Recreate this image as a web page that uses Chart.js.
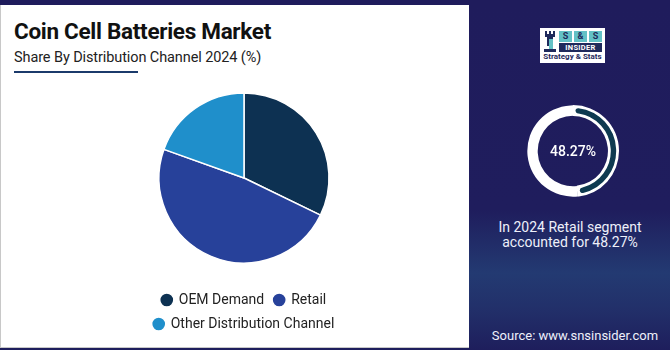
<!DOCTYPE html>
<html lang="en">
<head>
  <meta charset="UTF-8" />
  <title>Coin Cell Batteries Market</title>
  <script src="https://cdn.jsdelivr.net/npm/chart.js"></script>
  <style>
    html, body { margin: 0; padding: 0; }
    body {
      width: 670px; height: 350px; overflow: hidden; position: relative;
      font-family: Roboto, "Noto Sans", sans-serif;
      background: linear-gradient(to bottom, #1f1c5c 0%, #1f1d5d 60%, #233a72 78%, #22306a 88%, #1e1e5c 100%);
    }
    .panel {
      position: absolute; left: 0; top: 5px; width: 469px; height: 343px;
      background: #fff; border-left: 1px solid #c8c8c8; border-bottom: 1px solid #c8c8c8;
      box-sizing: border-box;
    }
    h1 {
      position: absolute; left: 13px; top: 13px; margin: 0;
      font-size: 22.5px; font-weight: 700; color: #111; letter-spacing: -0.3px;
    }
    .sub {
      position: absolute; left: 13px; top: 44px; font-size: 14.5px; color: #222; letter-spacing: -0.1px;
    }
    .underline {
      position: absolute; left: 13px; top: 66px; width: 124px; height: 2px; background: #1b3a6b;
    }
    #pieWrap { position: absolute; left: 138px; top: 73px; width: 212px; height: 268px; }
    #ringWrap { position: absolute; left: 527px; top: 105px; width: 92px; height: 92px; }
    .ringLabel {
      position: absolute; left: 527px; top: 143px; width: 92px; text-align: center;
      color: #fff; font-size: 14px; font-weight: 500;
    }
    .note {
      position: absolute; left: 470px; top: 220px; width: 200px; text-align: center;
      color: #eef0fa; font-size: 14px; line-height: 15px;
    }
    .source {
      position: absolute; left: 470px; top: 328px; width: 210px; text-align: center;
      color: #eef0fa; font-size: 13px;
    }
    .logo {
      position: absolute; left: 540px; top: 28px; width: 65px; height: 35px; background: #fff;
    }
    .rook { position: absolute; left: 3px; top: 3px; width: 14px; height: 22px; }
    .ss { position: absolute; left: 19px; top: 3px; width: 43px; height: 11px; display: flex; gap: 2px; }
    .ss span {
      flex: 1; background: #63c1c6; color: #1f2a5c; font-size: 9px; font-weight: 700;
      text-align: center; line-height: 11px;
    }
    .ins {
      position: absolute; left: 19px; top: 15px; width: 43px; height: 9px; background: #1f2a5c;
      color: #fff; font-size: 7.5px; font-weight: 700; text-align: center; line-height: 9px; letter-spacing: 0.3px;
    }
    .strat {
      position: absolute; left: 1px; top: 24px; width: 63px; text-align: center;
      color: #1f2a5c; font-size: 8px; font-weight: 700; line-height: 10px;
    }
  </style>
</head>
<body>
  <div class="panel">
    <h1>Coin Cell Batteries Market</h1>
    <div class="sub">Share By Distribution Channel 2024 (%)</div>
    <div class="underline"></div>
  </div>

  <div id="pieWrap"><canvas id="pieChart"></canvas></div>

  <div class="logo">
    <svg class="rook" viewBox="0 0 14 22">
      <rect x="2" y="0" width="2" height="3" fill="#1f2a5c"/>
      <rect x="6" y="0" width="2" height="3" fill="#1f2a5c"/>
      <rect x="10" y="0" width="2" height="3" fill="#1f2a5c"/>
      <rect x="2" y="3" width="10" height="3" fill="#1f2a5c"/>
      <rect x="4" y="6" width="6" height="9" fill="#1f2a5c"/>
      <rect x="6" y="8" width="4" height="12" fill="#63c1c6"/>
      <rect x="1" y="18" width="12" height="3" fill="#1f2a5c"/>
    </svg>
    <div class="ss"><span>S</span><span>&amp;</span><span>S</span></div>
    <div class="ins">INSIDER</div>
    <div class="strat">Strategy &amp; Stats</div>
  </div>

  <div id="ringWrap"><canvas id="ringChart"></canvas></div>
  <div class="ringLabel">48.27%</div>
  <div class="note">In 2024 Retail segment<br>accounted for 48.27%</div>
  <div class="source">Source: www.snsinsider.com</div>

  <script>
    // data
    const channels = ['OEM Demand', 'Retail', 'Other Distribution Channel'];
    const shares = [32.2, 48.27, 19.53];
    const channelColors = ['#0d3152', '#27419a', '#1f8fcb'];
    const highlight = 48.27;

    new Chart(document.getElementById('pieChart'), {
      type: 'pie',
      data: {
        labels: channels,
        datasets: [{
          data: shares,
          backgroundColor: channelColors,
          borderColor: '#ffffff',
          borderWidth: 1.5
        }]
      },
      options: {
        responsive: true,
        maintainAspectRatio: false,
        animation: false,
        radius: 85,
        plugins: {
          tooltip: { enabled: false },
          legend: {
            position: 'bottom',
            labels: {
              usePointStyle: true,
              pointStyle: 'circle',
              boxWidth: 10,
              boxHeight: 10,
              padding: 10,
              color: '#222',
              font: { family: 'Roboto', size: 14 }
            }
          }
        }
      }
    });

    new Chart(document.getElementById('ringChart'), {
      type: 'doughnut',
      data: {
        labels: ['Retail', 'Rest'],
        datasets: [{
          data: [highlight, 100 - highlight],
          backgroundColor: ['#0e3a50', '#ffffff'],
          borderColor: '#ffffff',
          borderWidth: [2.5, 0],
          borderAlign: 'inner',
          borderRadius: [6, 0]
        }]
      },
      options: {
        responsive: true,
        maintainAspectRatio: false,
        animation: false,
        cutout: '76%',
        plugins: { legend: { display: false }, tooltip: { enabled: false } }
      }
    });
  </script>
</body>
</html>
